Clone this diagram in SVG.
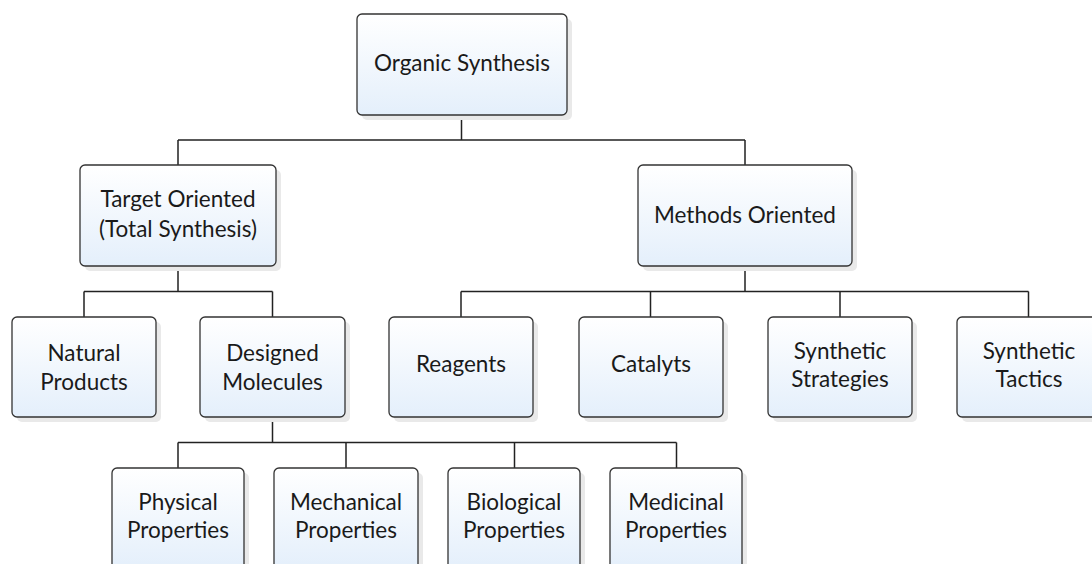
<svg xmlns="http://www.w3.org/2000/svg" width="1092" height="564" viewBox="0 0 1092 564">
<defs>
<linearGradient id="g" x1="0" y1="0" x2="0" y2="1">
<stop offset="0" stop-color="#ffffff"/>
<stop offset="1" stop-color="#e4effb"/>
</linearGradient>
</defs>
<style>
.box{fill:url(#g);stroke:#333;stroke-width:1.3}
.sh{fill:#e9e9e9}
.t{font-family:Lato,"Open Sans",sans-serif;font-size:22.5px;fill:#1a1a1a;text-anchor:middle}
.c{fill:none;stroke:#222;stroke-width:1.5}
</style>
<rect width="1092" height="564" fill="#fff"/>
<g id="connectors">
<path class="c" d="M461.5 115V140M178 140H745M178 140V165M745 140V165"/>
<path class="c" d="M178 266V291.5M84 291.5H272.5M84 291.5V317M272.5 291.5V317"/>
<path class="c" d="M745 266V291.5M461 291.5H1028.5M461 291.5V317M650.5 291.5V317M840 291.5V317M1028.5 291.5V317"/>
<path class="c" d="M272.5 417V442.5M178 442.5H676.5M178 442.5V468M346 442.5V468M514.5 442.5V468M676.5 442.5V468"/>
</g>
<g id="n-root"><rect class="sh" x="362" y="19" width="210" height="101" rx="5"/><rect class="box" x="357" y="14" width="210" height="101" rx="5"/><text class="t" x="462" y="71">Organic Synthesis</text></g>
<g id="n-target"><rect class="sh" x="85" y="170" width="196" height="101" rx="5"/><rect class="box" x="80" y="165" width="196" height="101" rx="5"/><text class="t" x="178" y="207">Target Oriented</text><text class="t" x="178" y="237">(Total Synthesis)</text></g>
<g id="n-methods"><rect class="sh" x="643" y="170" width="214" height="101" rx="5"/><rect class="box" x="638" y="165" width="214" height="101" rx="5"/><text class="t" x="745" y="223">Methods Oriented</text></g>
<g id="n-natural"><rect class="sh" x="17" y="322" width="144" height="100" rx="5"/><rect class="box" x="12" y="317" width="144" height="100" rx="5"/><text class="t" x="84" y="361">Natural</text><text class="t" x="84" y="390">Products</text></g>
<g id="n-designed"><rect class="sh" x="205" y="322" width="145" height="100" rx="5"/><rect class="box" x="200" y="317" width="145" height="100" rx="5"/><text class="t" x="272.5" y="361">Designed</text><text class="t" x="272.5" y="390">Molecules</text></g>
<g id="n-reagents"><rect class="sh" x="394" y="322" width="144" height="100" rx="5"/><rect class="box" x="389" y="317" width="144" height="100" rx="5"/><text class="t" x="461" y="372">Reagents</text></g>
<g id="n-catalyts"><rect class="sh" x="584" y="322" width="144" height="100" rx="5"/><rect class="box" x="579" y="317" width="144" height="100" rx="5"/><text class="t" x="651" y="372">Catalyts</text></g>
<g id="n-strategies"><rect class="sh" x="773" y="322" width="144" height="100" rx="5"/><rect class="box" x="768" y="317" width="144" height="100" rx="5"/><text class="t" x="840" y="359">Synthetic</text><text class="t" x="840" y="387">Strategies</text></g>
<g id="n-tactics"><rect class="sh" x="962" y="322" width="144" height="100" rx="5"/><rect class="box" x="957" y="317" width="144" height="100" rx="5"/><text class="t" x="1029" y="359">Synthetic</text><text class="t" x="1029" y="387">Tactics</text></g>
<g id="n-physical"><rect class="sh" x="117" y="473" width="132" height="101" rx="5"/><rect class="box" x="112" y="468" width="132" height="101" rx="5"/><text class="t" x="178" y="510">Physical</text><text class="t" x="178" y="538">Properties</text></g>
<g id="n-mechanical"><rect class="sh" x="279" y="473" width="144" height="101" rx="5"/><rect class="box" x="274" y="468" width="144" height="101" rx="5"/><text class="t" x="346" y="510">Mechanical</text><text class="t" x="346" y="538">Properties</text></g>
<g id="n-biological"><rect class="sh" x="453" y="473" width="132" height="101" rx="5"/><rect class="box" x="448" y="468" width="132" height="101" rx="5"/><text class="t" x="514" y="510">Biological</text><text class="t" x="514" y="538">Properties</text></g>
<g id="n-medicinal"><rect class="sh" x="615" y="473" width="132" height="101" rx="5"/><rect class="box" x="610" y="468" width="132" height="101" rx="5"/><text class="t" x="676" y="510">Medicinal</text><text class="t" x="676" y="538">Properties</text></g>
</svg>
